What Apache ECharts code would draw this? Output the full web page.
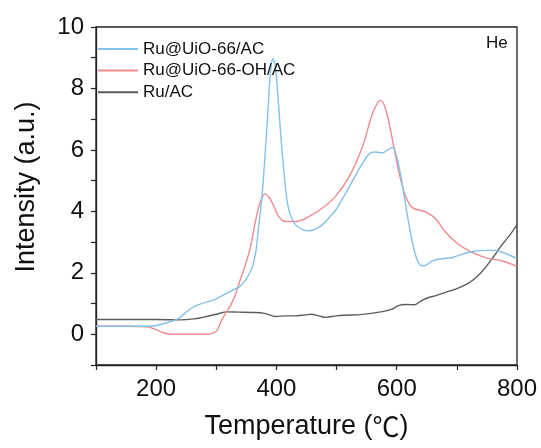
<!DOCTYPE html>
<html>
<head>
<meta charset="utf-8">
<script src="https://cdn.jsdelivr.net/npm/echarts@6/dist/echarts.min.js"></script>
<style>
html,body{margin:0;padding:0;background:#fff;}
#chart{width:541px;height:448px;}
</style>
</head>
<body>
<div id="chart"></div>
<script>
var seriesNames = ['Ru@UiO-66/AC', 'Ru@UiO-66-OH/AC', 'Ru/AC'];

var blueT = [100,150,195,215,236,250,263,279,296,312,329,342,357,365,371,376,381,386,390,394,398,402,406,411,416,422,432,445,455,465,476,490,500,521,543,555,565,576,585,593,601,610,621,632,642,650,660,676,693,720,754,776,800];
var blueV = [0.26,0.26,0.27,0.36,0.5,0.72,0.9,1.02,1.12,1.28,1.45,1.6,2.05,2.6,3.6,4.5,5.8,7.3,8.5,8.98,8.75,7.9,6.8,5.6,4.6,3.95,3.56,3.4,3.37,3.42,3.56,3.85,4.08,4.8,5.56,5.88,5.93,5.9,6.0,6.08,5.7,4.8,3.5,2.53,2.23,2.26,2.4,2.46,2.5,2.67,2.74,2.67,2.46];

var redT = [100,150,185,200,212,228,284,293,301,307,316,324,332,340,349,357,368,375,381,388,395,404,415,432,454,476,498,521,543,560,573,582,593,604,615,626,648,665,680,700,722,750,773,800];
var redV = [0.26,0.26,0.24,0.15,0.05,0.0,0.0,0.03,0.12,0.38,0.7,0.95,1.3,1.78,2.3,2.86,3.94,4.4,4.57,4.45,4.2,3.83,3.67,3.67,3.83,4.1,4.48,5.13,6.1,7.19,7.62,7.3,6.32,5.24,4.48,4.12,3.98,3.75,3.35,2.97,2.7,2.48,2.4,2.21];

var blackT = [100,150,200,240,262,279,300,318,337,360,380,399,415,430,448,458,470,482,500,515,540,573,590,604,615,629,640,651,665,679,698,707,718,729,740,751,762,773,787,800];
var blackV = [0.48,0.48,0.48,0.47,0.5,0.56,0.65,0.73,0.72,0.71,0.68,0.58,0.6,0.6,0.63,0.65,0.6,0.55,0.6,0.62,0.64,0.73,0.8,0.94,0.97,0.96,1.08,1.18,1.26,1.35,1.47,1.54,1.65,1.8,2.0,2.26,2.55,2.86,3.2,3.56];

var xTicks = [200, 400, 600, 800];
var yTicks = [0, 2, 4, 6, 8, 10];
var colors = ['#84c0ea', '#f08a8e', '#5c5c5c'];

function pairs(t, v) { return t.map(function (x, i) { return [x, v[i]]; }); }

var FONT = "Arial, 'Liberation Sans', sans-serif";
var CJK = "'Noto Sans CJK SC', sans-serif";
var chart = echarts.init(document.getElementById('chart'), null, {renderer: 'canvas'});
var lineSeries = [pairs(blueT, blueV), pairs(redT, redV), pairs(blackT, blackV)].map(function (d, i) {
  return {
    name: seriesNames[i], type: 'line', data: d, symbol: 'none', smooth: 0.35,
    lineStyle: {color: colors[i], width: 1.4}, itemStyle: {color: colors[i]},
    z: 3 - i
  };
});

chart.setOption({
  animation: false,
  backgroundColor: '#fff',
  color: colors,
  grid: {left: 96, right: 24, top: 27, bottom: 83, show: true, borderColor: '#222', borderWidth: 1.3, backgroundColor: 'transparent'},
  legend: {
    data: seriesNames, orient: 'vertical', left: 98, top: 40.5, padding: 0,
    itemWidth: 40, itemHeight: 16, itemGap: 4.6,
    textStyle: {fontFamily: FONT, fontSize: 17, color: '#111', padding: [0, 0, 0, 0]},
    icon: 'path://M0,7 L40,7 L40,9 L0,9 Z'
  },
  graphic: [{
    type: 'text', left: 486, top: 35,
    style: {text: 'He', fontFamily: FONT, fontSize: 17, fill: '#111'}
  }],
  xAxis: {
    type: 'value', min: 100, max: 800, interval: 100,
    name: 'Temperature ({c|\u2103})', nameLocation: 'middle', nameGap: 48,
    nameTextStyle: {fontFamily: FONT, fontSize: 27, color: '#111',
      rich: {c: {fontFamily: CJK, fontSize: 27, color: '#111'}}},
    axisLine: {onZero: false, lineStyle: {color: '#222', width: 1.3}},
    axisTick: {show: true, inside: false, length: 5, lineStyle: {color: '#222', width: 1.2}},
    axisLabel: {fontFamily: FONT, fontSize: 24, color: '#111', margin: 12,
      formatter: function (v) { return xTicks.indexOf(v) >= 0 ? String(v) : ''; }},
    splitLine: {show: false}
  },
  yAxis: {
    type: 'value', min: -1, max: 10, interval: 1,
    name: 'Intensity (a.u.)', nameLocation: 'middle', nameGap: 56,
    nameTextStyle: {fontFamily: FONT, fontSize: 27, color: '#111', padding: [0, 0, 0, 18]},
    axisLine: {show: true, onZero: false, lineStyle: {color: '#222', width: 1.3}},
    axisTick: {show: true, inside: false, length: 5, lineStyle: {color: '#222', width: 1.2}},
    axisLabel: {fontFamily: FONT, fontSize: 24, color: '#111', margin: 12,
      formatter: function (v) { return yTicks.indexOf(v) >= 0 ? String(v) : ''; }},
    splitLine: {show: false}
  },
  series: lineSeries
});
</script>
</body>
</html>
